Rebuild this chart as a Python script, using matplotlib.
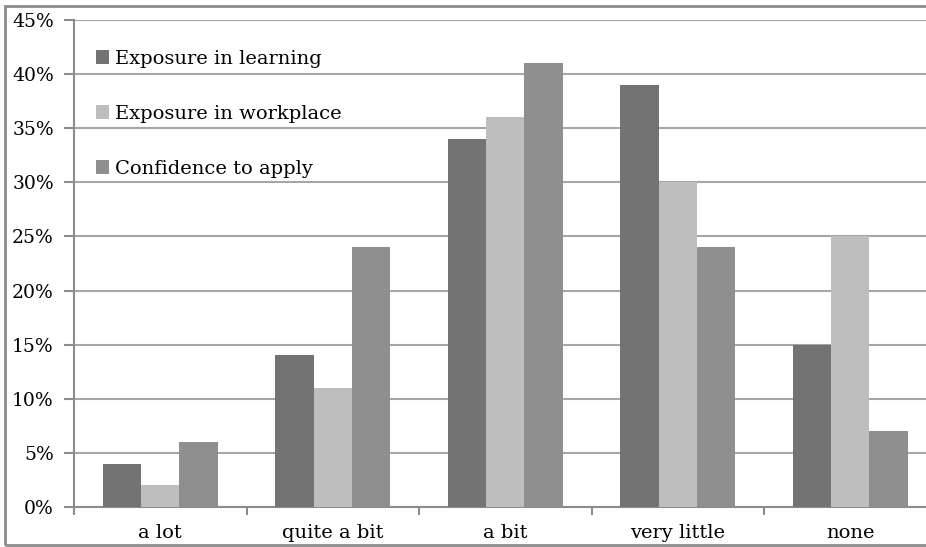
import matplotlib.pyplot as plt
import numpy as np
from matplotlib.patches import Rectangle
from matplotlib.ticker import FuncFormatter

plt.rcParams['font.family'] = ['DejaVu Serif']

categories = ['a lot', 'quite a bit', 'a bit', 'very little', 'none']
learning = [4, 14, 34, 39, 15]
workplace = [2, 11, 36, 30, 25]
confidence = [6, 24, 41, 24, 7]
series_names = ['Exposure in learning', 'Exposure in workplace', 'Confidence to apply']
colors = ['#737373', '#bebebe', '#8f8f8f']

fig = plt.figure(figsize=(9.26, 5.47), dpi=100)
ax = fig.add_axes([74 / 926, 40 / 547, 862.5 / 926, 487 / 547])

x = np.arange(len(categories))
w = 0.222
for i, (vals, name) in enumerate(zip([learning, workplace, confidence], series_names)):
    ax.bar(x + (i - 1) * w, np.array(vals) / 100, w, color=colors[i], label=name, zorder=3)

ax.set_xlim(-0.5, len(categories) - 0.5)
ax.set_ylim(0, 0.45)
ax.set_yticks(np.arange(0, 0.46, 0.05))
ax.yaxis.set_major_formatter(FuncFormatter(lambda v, p: f'{v * 100:.0f}%'))
ax.grid(axis='y', color='#a6a6a6', linewidth=1.5, zorder=0)

ax.set_xticks(x)
ax.set_xticklabels(categories)
ax.set_xticks(np.arange(-0.5, len(categories)), minor=True)
ax.tick_params(axis='x', which='major', length=0, pad=12, labelsize=14)
ax.tick_params(axis='x', which='minor', length=6, width=1.5, color='#8c8c8c')
ax.tick_params(axis='y', length=7, width=1.5, color='#8c8c8c', pad=7.5, labelsize=13.5)

for s in ['top', 'right']:
    ax.spines[s].set_visible(False)
for s in ['left', 'bottom']:
    ax.spines[s].set_color('#8c8c8c')
    ax.spines[s].set_linewidth(1.5)

leg = ax.legend(loc='upper left', bbox_to_anchor=(0.005, 0.975), frameon=False,
                handlelength=0.7, handleheight=0.7, handletextpad=0.3,
                labelspacing=1.9, fontsize=14)

fig.patches.append(Rectangle((5 / 926, 2 / 547), 1.2, 539 / 547, transform=fig.transFigure,
                             fill=False, edgecolor='#8c8c8c', linewidth=2))

fig.savefig('out.png', dpi=100)
